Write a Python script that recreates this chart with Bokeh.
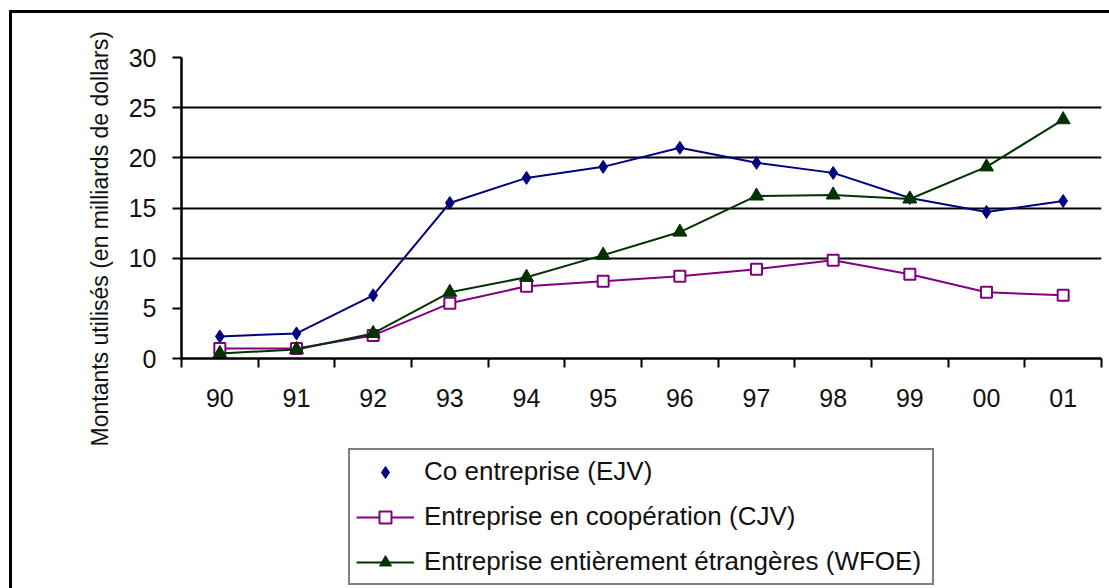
import math
from bokeh.plotting import figure
from bokeh.layouts import column
from bokeh.models import (ColumnDataSource, FixedTicker, Legend, LegendItem, Title)
from bokeh.embed import file_html
from bokeh.resources import INLINE

# ---- data ----
years = ["90", "91", "92", "93", "94", "95", "96", "97", "98", "99", "00", "01"]
ejv = [2.2, 2.5, 6.3, 15.5, 18.0, 19.1, 21.0, 19.5, 18.5, 16.0, 14.6, 15.7]
cjv = [1.0, 1.0, 2.3, 5.5, 7.2, 7.7, 8.2, 8.9, 9.8, 8.4, 6.6, 6.3]
wfoe = [0.5, 0.9, 2.5, 6.6, 8.1, 10.3, 12.6, 16.2, 16.3, 15.9, 19.1, 23.8]
y_ticks = [0, 5, 10, 15, 20, 25, 30]
grid_ticks = [10, 15, 20, 25, 30]
series_names = ["Co entreprise (EJV)",
                "Entreprise en coopération (CJV)",
                "Entreprise entièrement étrangères (WFOE)"]
y_title = "Montants utilisés (en milliards de dollars)"

FONT = "Liberation Sans"
BLUE = "#000080"
PURPLE = "#800080"
GREEN = "#003300"

xs = [i + 0.5 for i in range(len(years))]
src = ColumnDataSource(dict(x=xs, ejv=ejv, cjv=cjv, wfoe=wfoe))


def add_series(fig):
    l1 = fig.line("x", "ejv", source=src, line_color=BLUE, line_width=2)
    s1 = fig.scatter("x", "ejv", source=src, marker="diamond", size=13,
                     fill_color=BLUE, line_color=BLUE)
    l2 = fig.line("x", "cjv", source=src, line_color=PURPLE, line_width=2)
    s2 = fig.scatter("x", "cjv", source=src, marker="square", size=11,
                     fill_color="white", line_color=PURPLE, line_width=2)
    l3 = fig.line("x", "wfoe", source=src, line_color=GREEN, line_width=2)
    s3 = fig.scatter("x", "wfoe", source=src, marker="triangle", size=14,
                     fill_color=GREEN, line_color=GREEN)
    return l1, s1, l2, s2, l3, s3


# ---------------- main chart ----------------
p = figure(frame_width=920, frame_height=301,
           min_border_left=181, min_border_right=8,
           min_border_top=57, min_border_bottom=89,
           x_range=(0, len(years)), y_range=(0, 30),
           output_backend="svg", toolbar_location=None,
           background_fill_color="white", border_fill_color=None)
p.outline_line_color = None

p.xgrid.visible = False
p.ygrid.ticker = FixedTicker(ticks=grid_ticks)
p.ygrid.grid_line_color = "black"
p.ygrid.grid_line_width = 2

p.yaxis.ticker = FixedTicker(ticks=y_ticks)
p.yaxis.axis_line_width = 2.5
p.yaxis.axis_line_color = "black"
p.yaxis.major_tick_out = 9
p.yaxis.major_tick_in = 0
p.yaxis.major_tick_line_width = 2
p.yaxis.minor_tick_line_color = None
p.yaxis.major_label_standoff = 16
p.yaxis.major_label_text_font = FONT
p.yaxis.major_label_text_font_size = "25px"
p.yaxis.major_label_text_color = "#111111"

p.xaxis.ticker = FixedTicker(ticks=xs, minor_ticks=list(range(len(years) + 1)))
p.xaxis.major_label_overrides = {x: lab for x, lab in zip(xs, years)}
p.xaxis.axis_line_width = 2.5
p.xaxis.axis_line_color = "black"
p.xaxis.major_tick_out = 0
p.xaxis.major_tick_in = 0
p.xaxis.minor_tick_out = 9
p.xaxis.minor_tick_in = 0
p.xaxis.minor_tick_line_width = 2
p.xaxis.minor_tick_line_color = "black"
p.xaxis.major_label_standoff = 21
p.xaxis.major_label_text_font = FONT
p.xaxis.major_label_text_font_size = "25px"
p.xaxis.major_label_text_color = "#111111"

add_series(p)

yt = Title(text=y_title, align="left", offset=-88, standoff=26,
           text_font=FONT, text_font_size="23px", text_font_style="normal",
           text_color="#111111")
p.add_layout(yt, "left")

# ---------------- legend strip ----------------
pb = figure(width=1109, height=141, min_border=0,
            x_range=(-100, -99), y_range=(-100, -99),
            output_backend="svg", toolbar_location=None,
            background_fill_color=None, border_fill_color=None)
pb.outline_line_color = None
pb.axis.visible = False
pb.grid.visible = False
b1, bs1, b2, bs2, b3, bs3 = add_series(pb)

legend = Legend(items=[
    LegendItem(label=series_names[0], renderers=[bs1]),
    LegendItem(label=series_names[1], renderers=[b2, bs2]),
    LegendItem(label=series_names[2], renderers=[b3, bs3]),
], location=(167, 3))
legend.label_text_font = FONT
legend.label_text_font_size = "26px"
legend.label_text_color = "#111111"
legend.label_height = 30
legend.label_width = 502
legend.glyph_height = 30
legend.glyph_width = 58
legend.label_standoff = 10
legend.spacing = 14
legend.padding = 6
legend.margin = 0
legend.border_line_color = "black"
legend.border_line_width = 2
legend.background_fill_color = "white"
legend.background_fill_alpha = 1
pb.add_layout(legend, "center")

layout = column(p, pb, spacing=0)
# outer chart-area frame (left and top edges visible in the original)
layout.styles = {
    "background-color": "white",
    "background-image": "linear-gradient(#000,#000), linear-gradient(#000,#000)",
    "background-size": "3px 100%, 100% 3px",
    "background-position": "9px 10px, 9px 10px",
    "background-repeat": "no-repeat",
}

open("out.html", "w").write(file_html(layout, INLINE))
